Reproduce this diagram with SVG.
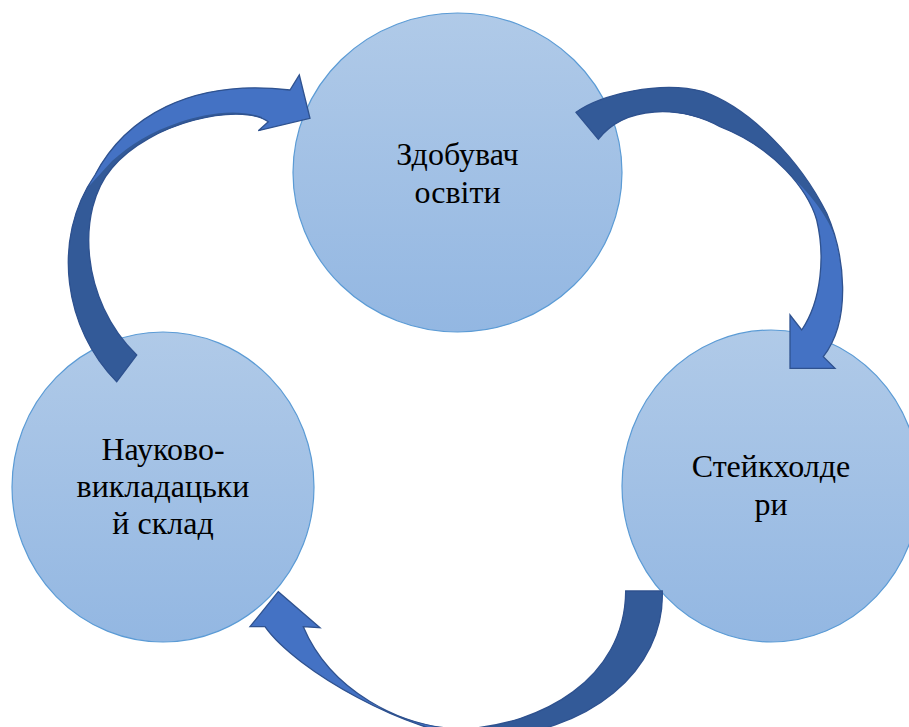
<svg xmlns="http://www.w3.org/2000/svg" width="909" height="727" viewBox="0 0 909 727">
<defs>
<linearGradient id="cg" x1="0" y1="0" x2="0" y2="1">
<stop offset="0" stop-color="#b0cae8"/>
<stop offset="1" stop-color="#93b7e2"/>
</linearGradient>
<path id="a1" d="M116.7,381.7 C65,330 50,240 95,175 C125,118 190,78 290,90 L299.3,75 L310,118.3 L258.3,130.7 L268.3,121.7 C240,102 150,122 112,168 C76,210 80,300 136.7,355 Z"/>
<path id="a2" d="M576,112.3 C600,95 660,80 703.3,91.7 C750,108 800,160 826.7,213.3 C845,255 852,320 823.3,356.7 L835,368.3 L790,368.3 L790,315 L801.7,330 C822,300 825,255 816.7,220 C808,190 775,148 720,126.7 C680,105 625,105 598.3,139.3 Z"/>
<path id="a3" d="M662.3,591 C665,670 590,735 480,738 C410,735 295,670 265,626.7 L250,626.7 L278.3,591.7 L320,627.7 L303.3,626.7 C330,690 400,728 463,729 C540,725 625,680 625.7,591 Z"/>
<clipPath id="c1"><use href="#a1"/></clipPath>
<clipPath id="c2"><use href="#a2"/></clipPath>
<clipPath id="c3"><use href="#a3"/></clipPath>
</defs>
<style>
.node{fill:url(#cg);stroke:#5b9bd5;stroke-width:1.2}
.lbl{font-family:"Liberation Serif","Times New Roman",serif;font-size:32px;fill:#000;text-anchor:middle}
.light{fill:#4472c4}
.dark{fill:#335a98}
.edge{fill:none;stroke:#2f528f;stroke-width:1.3;stroke-linejoin:miter}
</style>
<g id="node-top">
<ellipse class="node" cx="457.5" cy="172.5" rx="164.5" ry="159.5"/>
<text class="lbl"><tspan x="457.5" y="165">Здобувач</tspan><tspan x="457.5" y="202.7">освіти</tspan></text>
</g>
<g id="node-right">
<ellipse class="node" cx="771" cy="486" rx="149" ry="156"/>
<text class="lbl"><tspan x="771" y="476.7">Стейкхолде</tspan><tspan x="771" y="515">ри</tspan></text>
</g>
<g id="node-left">
<ellipse class="node" cx="163" cy="487" rx="151" ry="155"/>
<text class="lbl"><tspan x="163" y="460">Науково-</tspan><tspan x="163" y="496.7">викладацьки</tspan><tspan x="163" y="534">й склад</tspan></text>
</g>
<g id="connectors">
<g id="arrow-left-to-top">
<use href="#a1" class="light"/>
<path class="dark" clip-path="url(#c1)" d="M60,430 L20,300 L40,200 L90,185 L112,161 C130,145 150,132 180,122 C205,114 235,108 262,117 L262,150 L200,220 L180,430 Z"/>
<use href="#a1" class="edge"/>
</g>
<g id="arrow-top-to-right">
<use href="#a2" class="light"/>
<path class="dark" clip-path="url(#c2)" d="M560,60 L560,200 L786,205 L793,178 C812,196 836,224 842,262 L880,262 L880,60 Z"/>
<use href="#a2" class="edge"/>
</g>
<g id="arrow-right-to-left">
<use href="#a3" class="light"/>
<path class="dark" clip-path="url(#c3)" d="M465,560 L700,560 L700,770 L465,770 Z"/>
<use href="#a3" class="edge"/>
</g>
</g>
</svg>
